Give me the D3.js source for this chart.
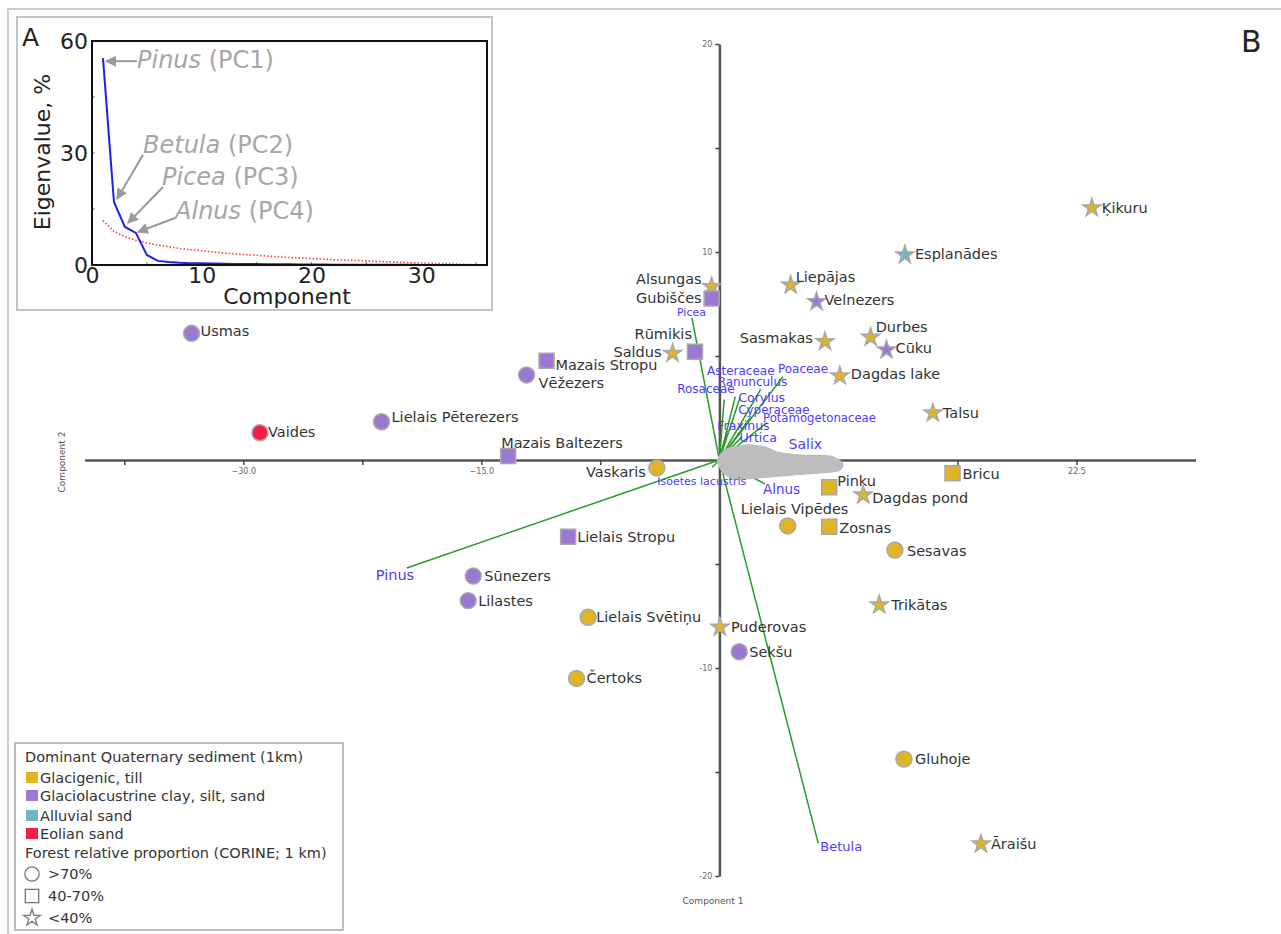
<!DOCTYPE html>
<html>
<head>
<meta charset="utf-8">
<script src="https://cdn.jsdelivr.net/npm/d3@7"></script>
<style>
  body { margin: 0; background: #fff; }
  svg { display: block; font-family: "DejaVu Sans", Verdana, sans-serif; }
</style>
</head>
<body>
<div id="chart"></div>
<script>
// ---------- A: scree plot ----------
const componentNo = [1, 2, 3, 4, 5, 6, 7, 8, 9, 10, 11, 12, 13, 14, 15, 16, 17, 18,
  19, 20, 21, 22, 23, 24, 25, 26, 27, 28, 29, 30, 31, 32, 33, 34, 35];
const eigenPct = [55.4, 16.9, 10.2, 8.6, 2.7, 1.1, 0.8, 0.6, 0.5, 0.45, 0.4, 0.35, 0.3,
  0.28, 0.25, 0.22, 0.2, 0.18, 0.16, 0.14, 0.12, 0.1, 0.09, 0.08, 0.07, 0.06, 0.05,
  0.04, 0.035, 0.03, 0.02, 0.015, 0.01, 0.005, 0];
const brokenStickPct = [11.9, 9.0, 7.6, 6.6, 5.9, 5.3, 4.9, 4.4, 4.1, 3.8, 3.5, 3.2, 3.0,
  2.8, 2.6, 2.4, 2.2, 2.0, 1.9, 1.7, 1.6, 1.4, 1.3, 1.2, 1.1, 0.95, 0.84, 0.73, 0.63,
  0.53, 0.43, 0.34, 0.25, 0.17, 0.08];
const screeXTicks = [0, 10, 20, 30];
const screeYTicks = [0, 30, 60];
// annotation: taxon, PC, text anchor (component, %), arrow tail, arrow tip
const screeNotes = [
  { taxon: "Pinus", pc: "(PC1)", tx: 4.1, ty: 52.7, fx: 4.1, fy: 54.6, hx: 1.28, hy: 54.6 },
  { taxon: "Betula", pc: "(PC2)", tx: 4.65, ty: 30.0, fx: 4.65, fy: 29.5, hx: 2.28, hy: 17.7 },
  { taxon: "Picea", pc: "(PC3)", tx: 6.38, ty: 21.4, fx: 6.47, fy: 20.9, hx: 3.28, hy: 11.25 },
  { taxon: "Alnus", pc: "(PC4)", tx: 7.57, ty: 12.3, fx: 7.57, fy: 12.6, hx: 4.19, hy: 8.84 }
];

// ---------- B: PCA biplot ----------
const lakes = ["Ķikuru", "Esplanādes", "Liepājas", "Velnezers", "Alsungas", "Gubiščes",
  "Sasmakas", "Durbes", "Cūku", "Dagdas lake", "Talsu", "Rūmikis", "Saldus", "Usmas",
  "Mazais Stropu", "Vēžezers", "Lielais Pēterezers", "Vaides", "Mazais Baltezers",
  "Vaskaris", "Bricu", "Pinku", "Dagdas pond", "Lielais Vipēdes", "Zosnas",
  "Lielais Stropu", "Sesavas", "Sūnezers", "Lilastes", "Trikātas", "Lielais Svētiņu",
  "Puderovas", "Sekšu", "Čertoks", "Gluhoje", "Āraišu"];
const lakePC1 = [23.47, 11.69, 4.49, 6.12, -0.49, -0.49, 6.65, 9.53, 10.53, 7.59, 13.45,
  -1.54, -2.95, -33.26, -10.89, -12.15, -21.29, -28.95, -13.31, -3.94, 14.69, 6.92,
  9.06, 4.30, 6.92, -9.53, 11.06, -15.51, -15.83, 10.07, -8.27, 0.03, 1.25, -9.0,
  11.63, 16.48];
const lakePC2 = [12.12, 9.86, 8.41, 7.61, 8.33, 7.77, 5.69, 5.90, 5.29, 4.04, 2.26,
  5.21, 5.13, 6.09, 4.77, 4.09, 1.84, 1.31, 0.19, -0.38, -0.64, -1.31, -1.68, -3.17,
  -3.21, -3.69, -4.33, -5.58, -6.76, -6.97, -7.56, -8.04, -9.22, -10.5, -14.38, -18.46];
// 0 till, 1 glaciolacustrine, 2 alluvial, 3 eolian
const lakeSediment = [0, 2, 0, 1, 0, 1, 0, 0, 1, 0, 0, 1, 0, 1, 1, 1, 1, 3, 1, 0, 0, 0,
  0, 0, 0, 1, 0, 1, 1, 0, 0, 0, 1, 0, 0, 0];
// 0 >70 %, 1 40-70 %, 2 <40 %
const lakeForest = [2, 2, 2, 2, 2, 1, 2, 2, 2, 2, 2, 1, 2, 0, 1, 0, 0, 0, 1, 0, 1, 1,
  2, 0, 1, 1, 0, 0, 0, 2, 0, 2, 0, 0, 0, 2];

const taxa = ["Picea", "Pinus", "Betula", "Alnus", "Isoetes lacustris", "Salix",
  "Poaceae", "Asteraceae", "Ranunculus", "Rosaceae", "Corylus", "Cyperaceae",
  "Potamogetonaceae", "Fraxinus", "Urtica"];
const taxaPC1 = [-1.73, -19.7, 6.23, 2.87, -0.45, 3.6, 4.0, 1.3, 2.6, 0.3, 1.0, 2.0, 3.0, 0.5, 1.4];
const taxaPC2 = [6.83, -5.19, -18.43, -1.15, -0.35, 0.25, 4.0, 3.0, 3.4, 2.9, 3.05, 2.1, 1.8, 1.4, 1.1];

// outline of the grey cloud of short loadings near the origin
const cloudPC1 = [-0.16, 0.4, 1.7, 2.9, 3.8, 5.1, 7.0, 7.8, 7.5, 5.1, 2.6, 1.0, 0.2];
const cloudPC2 = [0, 0.55, 0.75, 0.65, 0.38, 0.27, 0.22, -0.14, -0.55, -0.72, -0.88, -0.95, -0.62];

const sedimentClasses = ["Glacigenic, till", "Glaciolacustrine clay, silt, sand",
  "Alluvial sand", "Eolian sand"];
const forestClasses = [">70%", "40-70%", "<40%"];
const xTickValues = [-37.5, -30, -22.5, -15, -7.5, 0, 7.5, 15, 22.5];
const xTickLabels = [-30, -15, 22.5];
const yTickValues = [-20, -15, -10, -5, 5, 10, 15, 20];
const yTickLabels = [-20, -10, 10, 20];

// ---------- styling / layout ----------
const sedimentColor = ["#dfb526", "#9b79d3", "#72b6c4", "#ef2043"];
const forestSymbol = [d3.symbolCircle, d3.symbolSquare, d3.symbolStar];
const forestSize = [200, 225, 100];

// label offsets for lake names: [dx, dy, anchor]
const lakeLabelPos = {
  "Ķikuru": [10, 5], "Esplanādes": [10, 4], "Liepājas": [5, -3], "Velnezers": [8, 3],
  "Alsungas": [-10, -3, "end"], "Gubiščes": [-10, 5, "end"], "Sasmakas": [-12, 1, "end"],
  "Durbes": [5, -5], "Cūku": [9, 3], "Dagdas lake": [11, 3], "Talsu": [10, 5],
  "Rūmikis": [-3, -13, "end"], "Saldus": [-11, 4, "end"], "Usmas": [9, 3],
  "Mazais Stropu": [9, 9], "Vēžezers": [12, 13], "Lielais Pēterezers": [10, 0],
  "Vaides": [8, 4], "Mazais Baltezers": [-7, -8], "Vaskaris": [-11, 9, "end"],
  "Bricu": [10, 6], "Pinku": [8, -1], "Dagdas pond": [9, 8],
  "Lielais Vipēdes": [7, -12, "middle"], "Zosnas": [10, 6], "Lielais Stropu": [9, 5],
  "Sesavas": [12, 6], "Sūnezers": [11, 5], "Lilastes": [10, 5], "Trikātas": [12, 5],
  "Lielais Svētiņu": [8, 5], "Puderovas": [11, 5], "Sekšu": [10, 5], "Čertoks": [10, 5],
  "Gluhoje": [11, 5], "Āraišu": [10, 5]
};
// taxon label offsets from the loading tip: [dx, dy, font size]
const taxonLabelPos = {
  "Picea": [-15, -2, 11], "Pinus": [-31, 12, 14.5], "Betula": [2, 8, 13],
  "Alnus": [-2, 10, 13.5], "Isoetes lacustris": [-55, 18, 11], "Salix": [12, -6, 14],
  "Poaceae": [-5, -4, 12], "Asteraceae": [-33, -23, 12], "Ranunculus": [-43, -3, 12],
  "Rosaceae": [-47, -7, 12], "Corylus": [3, 5, 12.5], "Cyperaceae": [-13, -2, 12],
  "Potamogetonaceae": [-4, -1, 11.7], "Fraxinus": [-10, -1, 12.5], "Urtica": [-2, 5, 12.5]
};

const svg = d3.select("#chart").append("svg")
  .attr("width", 1281)
  .attr("height", 934);

// outer frame
svg.append("rect")
  .attr("x", 8).attr("y", 9).attr("width", 1300).attr("height", 940)
  .attr("fill", "none").attr("stroke", "#cccccc").attr("stroke-width", 2);

// ---------- main biplot ----------
const x = d3.scaleLinear().domain([-40, 30]).range([84.6, 1195.5]);
const y = d3.scaleLinear().domain([-20, 20]).range([876, 44]);

const $xAxis = svg.append("g")
  .attr("transform", "translate(0," + y(0) + ")")
  .call(d3.axisBottom(x)
    .tickValues(xTickValues)
    .tickSize(5)
    .tickSizeOuter(0)
    .tickPadding(3)
    .tickFormat(d => xTickLabels.includes(d) ? d3.format(".1f")(d) : ""));

const $yAxis = svg.append("g")
  .attr("transform", "translate(" + x(0) + ",0)")
  .call(d3.axisLeft(y)
    .tickValues(yTickValues)
    .tickSize(4)
    .tickSizeOuter(0)
    .tickPadding(3)
    .tickFormat(d => yTickLabels.includes(d) ? d : ""));

[$xAxis, $yAxis].forEach($a => {
  $a.select(".domain").attr("stroke", "#555").attr("stroke-width", 2.5);
  $a.selectAll(".tick line").attr("stroke", "#444").attr("stroke-width", 1.5);
  $a.selectAll(".tick text").attr("fill", "#666").attr("font-size", 8)
    .attr("font-family", "DejaVu Sans, sans-serif");
});

svg.append("text")
  .attr("x", 713).attr("y", 904)
  .attr("text-anchor", "middle").attr("font-size", 9).attr("fill", "#555")
  .text("Component 1");
svg.append("text")
  .attr("transform", "translate(65,462) rotate(-90)")
  .attr("text-anchor", "middle").attr("font-size", 9).attr("fill", "#555")
  .text("Component 2");

// loadings
svg.append("g").selectAll("line")
  .data(taxa)
  .join("line")
  .attr("x1", x(0)).attr("y1", y(0))
  .attr("x2", (d, i) => x(taxaPC1[i]))
  .attr("y2", (d, i) => y(taxaPC2[i]))
  .attr("stroke", "#2a9a2a")
  .attr("stroke-width", 1.5);

// grey cloud of short vectors
const cloudLine = d3.line()
  .x(d => x(d[0]))
  .y(d => y(d[1]))
  .curve(d3.curveCardinalClosed.tension(0.3));
svg.append("path")
  .datum(cloudPC1.map((v, i) => [v, cloudPC2[i]]))
  .attr("d", cloudLine)
  .attr("fill", "#bdbdbd");

svg.append("g").selectAll("text")
  .data(taxa)
  .join("text")
  .attr("x", (d, i) => x(taxaPC1[i]) + taxonLabelPos[d][0])
  .attr("y", (d, i) => y(taxaPC2[i]) + taxonLabelPos[d][1])
  .attr("font-size", d => taxonLabelPos[d][2])
  .attr("fill", "#4d3cff")
  .text(d => d);

// lakes
const $lake = svg.append("g").selectAll("g")
  .data(lakes)
  .join("g")
  .attr("transform", (d, i) => `translate(${x(lakePC1[i])},${y(lakePC2[i])})`);

$lake.append("path")
  .attr("d", (d, i) => d3.symbol(forestSymbol[lakeForest[i]], forestSize[lakeForest[i]])())
  .attr("fill", (d, i) => sedimentColor[lakeSediment[i]])
  .attr("stroke", "#a8a8a8")
  .attr("stroke-width", 1.5);

$lake.append("text")
  .attr("x", d => lakeLabelPos[d][0])
  .attr("y", d => lakeLabelPos[d][1])
  .attr("text-anchor", d => lakeLabelPos[d][2] || "start")
  .attr("font-size", 14.5)
  .attr("fill", "#333")
  .text(d => d);

svg.append("text")
  .attr("x", 1241).attr("y", 52)
  .attr("font-size", 30).attr("fill", "#222")
  .text("B");

// ---------- inset A ----------
const $inset = svg.append("g");
$inset.append("rect")
  .attr("x", 17).attr("y", 17).attr("width", 475).attr("height", 293)
  .attr("fill", "#fff").attr("stroke", "#c4c4c4").attr("stroke-width", 2);

const xi = d3.scaleLinear().domain([0, 36]).range([92, 487]);
const yi = d3.scaleLinear().domain([0, 60]).range([265, 41]);

$inset.append("g")
  .attr("transform", "translate(0,265)")
  .call(d3.axisBottom(xi).tickValues(screeXTicks).tickSize(0).tickPadding(2).tickFormat(d3.format("d")))
  .call(g => g.select(".domain").remove());
$inset.append("g")
  .attr("transform", "translate(92,0)")
  .call(d3.axisLeft(yi).tickValues(screeYTicks).tickSize(0).tickPadding(4).tickFormat(d3.format("d")))
  .call(g => g.select(".domain").remove());
$inset.selectAll(".tick text")
  .attr("font-size", 22).attr("fill", "#222")
  .attr("font-family", "DejaVu Sans, sans-serif");

// inner minor ticks
$inset.append("g").selectAll("line")
  .data([5, 15, 20, 25, 35])
  .join("line")
  .attr("x1", d => xi(d)).attr("x2", d => xi(d))
  .attr("y1", 265).attr("y2", 262)
  .attr("stroke", "#777");
$inset.append("g").selectAll("line")
  .data([15, 30, 45])
  .join("line")
  .attr("x1", 92).attr("x2", 95)
  .attr("y1", d => yi(d)).attr("y2", d => yi(d))
  .attr("stroke", "#777");

$inset.append("path")
  .datum(componentNo)
  .attr("d", d3.line().x(d => xi(d)).y((d, i) => yi(brokenStickPct[i])))
  .attr("fill", "none")
  .attr("stroke", "#ff3a3a")
  .attr("stroke-width", 1.6)
  .attr("stroke-dasharray", "1.5,2");

$inset.append("path")
  .datum(componentNo)
  .attr("d", d3.line().x(d => xi(d)).y((d, i) => yi(eigenPct[i])))
  .attr("fill", "none")
  .attr("stroke", "#1f1fee")
  .attr("stroke-width", 2);

$inset.append("rect")
  .attr("x", 92).attr("y", 41).attr("width", 395).attr("height", 224)
  .attr("fill", "none").attr("stroke", "#111").attr("stroke-width", 2);

svg.append("defs").append("marker")
  .attr("id", "arrow")
  .attr("viewBox", "0 0 10 10")
  .attr("refX", 9).attr("refY", 5)
  .attr("markerWidth", 13).attr("markerHeight", 11)
  .attr("markerUnits", "userSpaceOnUse")
  .attr("orient", "auto")
  .append("path")
  .attr("d", "M0,0L10,5L0,10Z")
  .attr("fill", "#9a9a9a");

$inset.append("g").selectAll("line")
  .data(screeNotes)
  .join("line")
  .attr("x1", d => xi(d.fx)).attr("y1", d => yi(d.fy))
  .attr("x2", d => xi(d.hx)).attr("y2", d => yi(d.hy))
  .attr("stroke", "#9a9a9a").attr("stroke-width", 2)
  .attr("marker-end", "url(#arrow)");

const $note = $inset.append("g").selectAll("text")
  .data(screeNotes)
  .join("text")
  .attr("x", d => xi(d.tx)).attr("y", d => yi(d.ty))
  .attr("font-size", 24).attr("fill", "#a6a6a6");
$note.append("tspan").attr("font-style", "italic").text(d => d.taxon);
$note.append("tspan").text(d => " " + d.pc);

$inset.append("text")
  .attr("x", 287).attr("y", 304)
  .attr("text-anchor", "middle").attr("font-size", 22).attr("fill", "#222")
  .text("Component");
$inset.append("text")
  .attr("transform", "translate(50,152) rotate(-90)")
  .attr("text-anchor", "middle").attr("font-size", 22).attr("fill", "#222")
  .text("Eigenvalue, %");
$inset.append("text")
  .attr("x", 22).attr("y", 46)
  .attr("font-size", 25).attr("fill", "#222")
  .text("A");

// ---------- legend ----------
const $legend = svg.append("g");
$legend.append("rect")
  .attr("x", 15).attr("y", 743).attr("width", 328).attr("height", 187)
  .attr("fill", "#fff").attr("stroke", "#bdbdbd").attr("stroke-width", 2);

const legendFont = 14.5;
$legend.append("text")
  .attr("x", 25).attr("y", 762).attr("font-size", legendFont).attr("fill", "#333")
  .text("Dominant Quaternary sediment (1km)");

const sedimentRowY = [778, 796, 816, 834];
const $sedRow = $legend.append("g").selectAll("g")
  .data(sedimentClasses)
  .join("g")
  .attr("transform", (d, i) => `translate(25,${sedimentRowY[i]})`);
$sedRow.append("rect")
  .attr("x", 1).attr("y", -6).attr("width", 12).attr("height", 11)
  .attr("fill", (d, i) => sedimentColor[i]);
$sedRow.append("text")
  .attr("x", 15).attr("y", 5).attr("font-size", legendFont).attr("fill", "#333")
  .text(d => d);

$legend.append("text")
  .attr("x", 25).attr("y", 858).attr("font-size", legendFont).attr("fill", "#333")
  .text("Forest relative proportion (CORINE; 1 km)");

const forestRowY = [874, 896, 918];
const forestLegendSize = [160, 180, 85];
const $forRow = $legend.append("g").selectAll("g")
  .data(forestClasses)
  .join("g")
  .attr("transform", (d, i) => `translate(32,${forestRowY[i]})`);
$forRow.append("path")
  .attr("d", (d, i) => d3.symbol(forestSymbol[i], forestLegendSize[i])())
  .attr("fill", "#fff").attr("stroke", "#777").attr("stroke-width", 1.3);
$forRow.append("text")
  .attr("x", 16).attr("y", 5).attr("font-size", legendFont).attr("fill", "#333")
  .text(d => d);
</script>
</body>
</html>
